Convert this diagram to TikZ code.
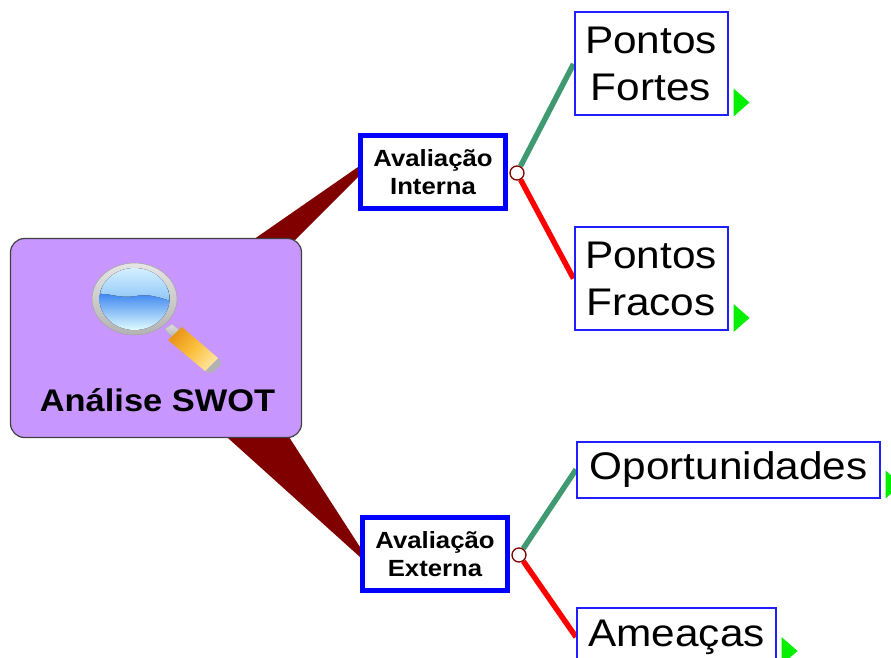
\documentclass[tikz,border=0pt]{standalone}
\usepackage{fontspec}
\setmainfont{Liberation Sans}[FakeStretch=1.1]
\usetikzlibrary{calc,shapes.geometric,backgrounds}
\definecolor{wedgered}{HTML}{800000}
\definecolor{purplebox}{HTML}{C896FF}
\definecolor{linegreen}{HTML}{3F9A72}
\definecolor{purered}{HTML}{FF0000}
\definecolor{pureblue}{HTML}{0000FF}
\definecolor{leafblue}{HTML}{2020FF}
\definecolor{tipgreen}{HTML}{00F000}
\definecolor{lensdeep}{HTML}{1A6CEC}
\definecolor{lenslow}{HTML}{E4FFFF}
\definecolor{lenstop}{HTML}{D4F0FF}
\definecolor{lensmid}{HTML}{8CC4F8}
\definecolor{golddark}{HTML}{E8961A}
\definecolor{goldlight}{HTML}{FFE39A}
\definecolor{goldmid}{HTML}{FBBF3C}
\tikzset{
  central/.style={draw=black!75,line width=1.2pt,fill=purplebox,rounded corners=14pt,minimum width=291pt,minimum height=199pt,inner sep=0pt},
  midbox/.style={draw=pureblue,line width=5pt,fill=white,align=center,inner sep=0pt,font=\fontsize{23.4}{28}\selectfont\bfseries},
  leafbox/.style={draw=leafblue,line width=2pt,fill=white,align=center,inner sep=0pt,font=\fontsize{38.5}{47}\selectfont},
  wedge/.style={fill=wedgered,draw=none},
  branch/.style={line width=5.5pt},
  joint/.style={circle,draw=wedgered,line width=1.3pt,fill=white,minimum size=14pt,inner sep=0pt},
  tip/.style={fill=tipgreen,draw=none}
}
\begin{document}
\begin{tikzpicture}[x=1pt,y=-1pt]
\useasboundingbox (0,0) rectangle (891,658);
% nodes
\node[central] (c) at (156,338) {};
\node[midbox,minimum width=145pt,minimum height=73pt] (ai) at (433,172) {Avaliação\\Interna};
\node[midbox,minimum width=145pt,minimum height=73pt] (ae) at (435,554) {Avaliação\\Externa};
\node[leafbox,minimum width=153pt,minimum height=103pt] (pf) at (651,64) {Pontos\\Fortes};
\node[leafbox,minimum width=153pt,minimum height=103pt] (pr) at (651,278.5) {Pontos\\Fracos};
\node[leafbox,minimum width=303pt,minimum height=56pt] (op) at (728.5,469.5) {Oportunidades};
\node[leafbox,minimum width=199pt,minimum height=58pt] (am) at (676.5,637) {Ameaças};
\node[joint] (ji) at (517,173) {};
\node[joint] (je) at (519,555) {};
% wedges and branches, under the boxes
\begin{scope}[on background layer]
\fill[white] (0,0) rectangle (891,658);
\path[wedge] ($(ai.west)+(0,-5)$) -- ($(c.center)+(68,-78)$) -- ($(c.center)+(119,-78)$) -- ($(ai.west)+(0,5)$) -- cycle;
\path[wedge] ($(ae.west)+(0,-7)$) -- ($(c.center)+(122,82)$) -- ($(c.center)+(52,82)$) -- ($(ae.west)+(0,3)$) -- cycle;
\draw[branch,linegreen] (ji) -- (pf.west);
\draw[branch,purered] (ji) -- (pr.west);
\draw[branch,linegreen] (je) -- (op.west);
\draw[branch,purered] (je) -- (am.west);
\end{scope}
% magnifier
\path[top color=gray!25,bottom color=gray!65,draw=gray!60,line width=0.5pt] (165,329) -- (172,324) -- (182,332) -- (174,340) -- cycle;
\path[fill=gray!60] (204,371) -- (219,358) -- (221,365) -- (212,373) -- cycle;
\path[shading=axis,left color=golddark,right color=goldlight,middle color=goldmid,shading angle=50] (168,340) -- (182,327) -- (218,358) -- (205,371) -- cycle;
\path[top color=gray!20,bottom color=gray!60,draw=gray!70,line width=0.6pt] (134.5,299) ellipse [x radius=42.5pt,y radius=36pt];
\begin{scope}
\clip (134.5,299) ellipse [x radius=35pt,y radius=31pt];
\fill[top color=lensdeep,bottom color=lenslow] (95,285) rectangle (175,331);
\fill[top color=lenstop,bottom color=lensmid] (95,268) -- (175,268) -- (175,302) .. controls (160,298) and (150,293) .. (135,296) .. controls (120,299) and (108,292) .. (95,294) -- cycle;
\end{scope}
% text of the central box
\node[font=\fontsize{31.3}{36}\selectfont\bfseries,inner sep=0pt] (t) at (157.5,400) {Análise SWOT};
% green tips
\coordinate (t1) at ($(pf.south east)+(5,-28)$);
\coordinate (t2) at ($(pr.south east)+(5,-27)$);
\coordinate (t3) at ($(op.south east)+(4.5,-28)$);
\coordinate (t4) at ($(am.east)+(4.5,0)$);
\fill[tip] (t1) -- ++(16,14) -- ++(-16,14) -- cycle;
\fill[tip] (t2) -- ++(16,14) -- ++(-16,14) -- cycle;
\fill[tip] (t3) -- ++(16,14) -- ++(-16,14) -- cycle;
\fill[tip] (t4) -- ++(16,14) -- ++(-16,14) -- cycle;
\end{tikzpicture}
\end{document}
